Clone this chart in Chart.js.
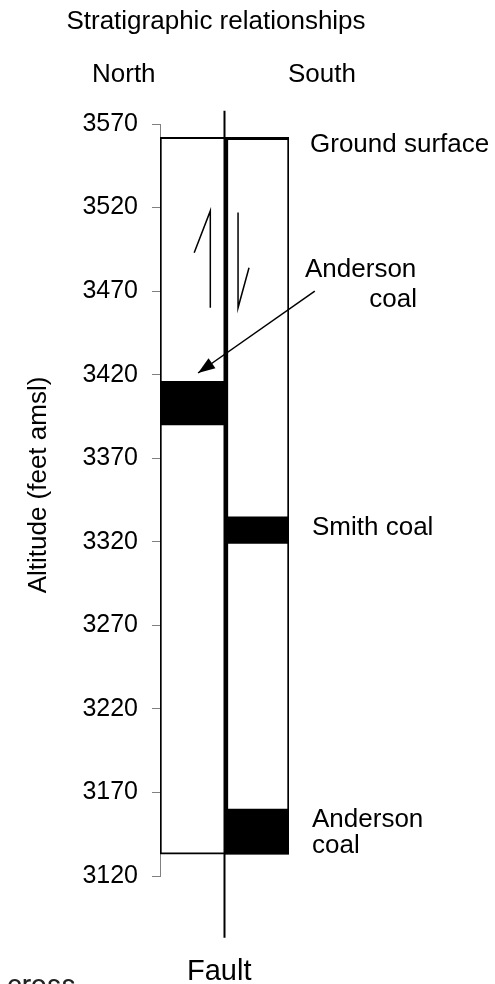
<!DOCTYPE html>
<html>
<head>
<meta charset="utf-8">
<script src="https://cdn.jsdelivr.net/npm/chart.js@4.4.1/dist/chart.umd.min.js"></script>
<style>
    html, body { margin: 0; padding: 0; background: #fff; overflow: hidden; }
    #wrap { position: relative; width: 495px; height: 984px; }
    #note { position: absolute; left: 7px; top: 971px; font: 28px/28px Roboto, sans-serif; color: #222; }
</style>
</head>
<body>
<div id="wrap">
    <canvas id="strat" width="495" height="984"></canvas>
    <div id="note">cross</div>
</div>
<script>
// Altitudes in feet amsl, one value per column (North block, South block)
var columns = ['North', 'South'];
var groundSurface = [3562, 3562];
var sectionBase = [3133, 3133];
var andersonTop = [3416, 3160];
var andersonBase = [3390, 3133];
var smithTop = [null, 3335];
var smithBase = [null, 3319];
var altitudeTicks = [3120, 3170, 3220, 3270, 3320, 3370, 3420, 3470, 3520, 3570];

var FONT = '"Liberation Sans", Arial, sans-serif';

// floating bars want [low, high]
function pairUp(lo, hi) {
    return lo.map(function (v, i) {
        return v === null ? null : [v, hi[i]];
    });
}

function arrowHead(ctx, x1, y1, x2, y2, len, half) {
    var a = Math.atan2(y2 - y1, x2 - x1);
    ctx.beginPath();
    ctx.moveTo(x2, y2);
    ctx.lineTo(x2 - len * Math.cos(a) + half * Math.sin(a), y2 - len * Math.sin(a) - half * Math.cos(a));
    ctx.lineTo(x2 - len * Math.cos(a) - half * Math.sin(a), y2 - len * Math.sin(a) + half * Math.cos(a));
    ctx.closePath();
    ctx.fill();
}

// fault trace, slip arrows, pointer and the text labels
var faultPlugin = {
    id: 'fault',
    afterDatasetsDraw: function (chart) {
        var ctx = chart.ctx;
        var xs = chart.scales.x, ys = chart.scales.y;
        var px = function (v) { return xs.getPixelForValue(v); };
        var py = function (v) { return ys.getPixelForValue(v); };

        ctx.save();
        ctx.strokeStyle = '#000';
        ctx.fillStyle = '#000';

        // fault between the two blocks
        ctx.lineWidth = 2;
        ctx.beginPath();
        ctx.moveTo(px(0.5), py(3578));
        ctx.lineTo(px(0.5), py(3083));
        ctx.stroke();

        // half arrows: North up, South down
        ctx.lineWidth = 1.5;
        ctx.beginPath();
        ctx.moveTo(px(0.28), py(3460));
        ctx.lineTo(px(0.28), py(3518));
        ctx.lineTo(px(0.03), py(3493));
        ctx.moveTo(px(0.71), py(3517));
        ctx.lineTo(px(0.71), py(3460));
        ctx.lineTo(px(0.88), py(3484));
        ctx.stroke();

        // pointer from label to the Anderson coal in the North block
        var x1 = px(1.90), y1 = py(3470), x2 = px(0.09), y2 = py(3421);
        ctx.lineWidth = 1.5;
        ctx.beginPath();
        ctx.moveTo(x1, y1);
        ctx.lineTo(x2, y2);
        ctx.stroke();
        arrowHead(ctx, x1, y1, x2, y2, 17, 6);

        // labels
        ctx.textBaseline = 'alphabetic';
        ctx.font = '26px ' + FONT;
        ctx.textAlign = 'center';
        ctx.fillText('Stratigraphic relationships', 216, 29);
        ctx.textAlign = 'left';
        ctx.fillText(columns[0], 92, 82);
        ctx.fillText(columns[1], 288, 82);
        ctx.fillText('Ground surface', 310, 152);
        ctx.fillText('Anderson', 305, 277);
        ctx.fillText('Smith coal', 312, 535);
        ctx.fillText('Anderson', 312, 827);
        ctx.fillText('coal', 312, 853);
        ctx.textAlign = 'right';
        ctx.fillText('coal', 417, 307);

        ctx.textAlign = 'left';
        ctx.font = '29px ' + FONT;
        ctx.fillText('Fault', 187, 980);

        // axis title
        ctx.translate(39, 485);
        ctx.rotate(-Math.PI / 2);
        ctx.font = '26px ' + FONT;
        ctx.textAlign = 'center';
        ctx.textBaseline = 'middle';
        ctx.fillText('Altitude (feet amsl)', 0, 0);
        ctx.restore();
    }
};

var barCommon = {
    grouped: false,
    categoryPercentage: 1,
    barPercentage: 1,
    borderSkipped: false
};

var ctx = document.getElementById('strat').getContext('2d');
var stratChart = new Chart(ctx, {
    type: 'bar',
    data: {
        labels: columns,
        datasets: [
            Object.assign({
                label: 'Anderson coal',
                data: pairUp(andersonBase, andersonTop),
                backgroundColor: '#000',
                borderWidth: 0,
                order: 1
            }, barCommon),
            Object.assign({
                label: 'Smith coal',
                data: pairUp(smithBase, smithTop),
                backgroundColor: '#000',
                borderWidth: 0,
                order: 1
            }, barCommon),
            Object.assign({
                label: 'Section',
                data: pairUp(sectionBase, groundSurface),
                backgroundColor: '#fff',
                borderColor: '#000',
                borderWidth: function (c) {
                    return c.dataIndex === 0
                        ? { top: 2, left: 2, bottom: 2, right: 0 }
                        : { top: 3, left: 4, bottom: 2, right: 2 };
                },
                order: 2
            }, barCommon)
        ]
    },
    options: {
        responsive: false,
        animation: false,
        events: [],
        layout: { padding: { top: 124, bottom: 108, left: 0, right: 206 } },
        plugins: {
            legend: { display: false },
            tooltip: { enabled: false }
        },
        scales: {
            x: { display: false },
            y: {
                min: 3120,
                max: 3570,
                afterFit: function (s) { s.width = 160; },
                afterBuildTicks: function (s) {
                    s.ticks = altitudeTicks.map(function (v) { return { value: v }; });
                },
                ticks: {
                    padding: 14,
                    color: '#000',
                    font: { family: FONT, size: 25 },
                    callback: function (v) { return String(v); }
                },
                grid: { drawOnChartArea: false, drawTicks: true, tickLength: 8, color: '#808080' },
                border: { display: true, color: '#808080', width: 1 }
            }
        }
    },
    plugins: [faultPlugin]
});
</script>
</body>
</html>
